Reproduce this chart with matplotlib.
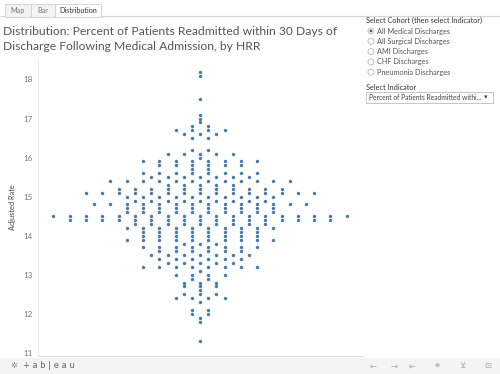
#!/usr/bin/env python3
"""
Distribution tab: percent of patients readmitted within 30 days of discharge
following medical admission, one dot per HRR, stacked by rounded rate.
"""

import numpy as np
import matplotlib
matplotlib.use('Agg')
import matplotlib.pyplot as plt
from matplotlib.patches import Rectangle, Circle

# Adjusted rate (rounded to 0.1) and number of HRRs sitting at that rate
RATE_BINS = [18.2, 18.1, 17.5, 17.1, 17.0, 16.9, 16.8, 16.7, 16.6, 16.5,
             16.2, 16.1, 16.0, 15.9, 15.8, 15.7, 15.6, 15.5, 15.4, 15.3,
             15.2, 15.1, 15.0, 14.9, 14.8, 14.7, 14.6, 14.5, 14.4, 14.3,
             14.2, 14.1, 14.0, 13.9, 13.8, 13.7, 13.6, 13.5, 13.4, 13.3,
             13.2, 13.1, 13.0, 12.9, 12.8, 12.7, 12.6, 12.5, 12.4, 12.3,
             12.1, 12.0, 11.9, 11.8, 11.3]
HRR_COUNTS = [1, 1, 1, 1, 1, 1, 2, 4, 3, 2,
              2, 5, 1, 8, 6, 2, 8, 7, 12, 5,
              11, 15, 10, 9, 14, 10, 10, 19, 17, 9,
              10, 8, 8, 10, 3, 8, 6, 7, 6, 5,
              8, 1, 4, 2, 3, 3, 1, 3, 4, 1,
              2, 2, 1, 1, 1]

Y_TICKS = [11, 12, 13, 14, 15, 16, 17, 18]
TABS = ['Map', 'Bar', 'Distribution']
TITLE_LINES = ['Distribution: Percent of Patients Readmitted within 30 Days of',
               'Discharge Following Medical Admission, by HRR']
COHORTS = ['All Medical Discharges', 'All Surgical Discharges', 'AMI Discharges',
           'CHF Discharges', 'Pneumonia Discharges']
SELECTED_COHORT = 0
INDICATOR = 'Percent of Patients Readmitted withi...'

DOT_COLOR = '#4e79a7'
FONT = ['Lato', 'DejaVu Sans']

W, H = 500, 374


def stack_rows(bins, counts):
    """Centre each row of dots; neighbours two columns apart."""
    xs, ys = [], []
    for value, n in zip(bins, counts):
        offsets = np.arange(n) * 2 - (n - 1)
        xs.extend(offsets)
        ys.extend([value] * n)
    return np.array(xs, dtype=float), np.array(ys, dtype=float)


def draw_chrome(bg):
    """Tabs, title, filter panel and footer, in pixel coordinates."""
    # tab strip
    tab_edges = [5, 31, 55, 101]
    bg.plot([0, W], [16, 16], color='#d4d4d4', lw=0.8)
    for i, name in enumerate(TABS):
        x0, x1 = tab_edges[i], tab_edges[i + 1]
        active = i == len(TABS) - 1
        bg.add_patch(Rectangle((x0, 4), x1 - x0, 12.5,
                               facecolor='white' if active else '#f3f3f3',
                               edgecolor='#d0d0d0', lw=0.6, zorder=2))
        bg.text((x0 + x1) / 2, 10.5, name, ha='center', va='center',
                fontsize=5.2, color='#333333' if active else '#777777',
                family=FONT, zorder=3)

    for j, line in enumerate(TITLE_LINES):
        bg.text(3, 31.5 + j * 14.5, line, ha='left', va='center',
                fontsize=8.7, color='#555555', family=FONT)

    # filter panel
    bg.text(366, 20, 'Select Cohort (then select Indicator)', ha='left',
            va='center', fontsize=5.3, color='#333333', family=FONT)
    for j, name in enumerate(COHORTS):
        cy = 31 + j * 10.3
        bg.add_patch(Circle((371, cy), 3.0, facecolor='white',
                            edgecolor='#b5b5b5', lw=0.6))
        if j == SELECTED_COHORT:
            bg.add_patch(Circle((371, cy), 1.4, facecolor='#555555', lw=0))
        bg.text(377, cy, name, ha='left', va='center', fontsize=5.3,
                color='#555555', family=FONT)
    bg.text(366, 87, 'Select Indicator', ha='left', va='center',
            fontsize=5.3, color='#333333', family=FONT)
    bg.add_patch(Rectangle((366, 92), 127, 11, facecolor='white',
                           edgecolor='#bdbdbd', lw=0.6))
    bg.text(369, 97.5, INDICATOR, ha='left', va='center', fontsize=4.8,
            color='#444444', family=FONT)
    bg.text(486, 97.5, '▾', ha='center', va='center', fontsize=5,
            color='#444444', family=['DejaVu Sans'])

    # y axis title
    bg.text(13, 207, 'Adjusted Rate', ha='center', va='center', rotation=90,
            fontsize=5.3, color='#444444', family=FONT)

    # footer bar
    bg.add_patch(Rectangle((0, 358), W, 16, facecolor='#f4f4f4',
                           edgecolor='none'))
    bg.text(14, 366, '✲', ha='center', va='center', fontsize=6,
            color='#8a8a8a', family=['DejaVu Sans'])
    bg.text(23, 366, '+ a b | e a u', ha='left', va='center', fontsize=6,
            color='#666666', family=['DejaVu Sans'])
    icons = ['←', '→', '⇤', '⚭', '⊻', '⊡']
    for x, icon in zip([373, 394, 412, 437, 462, 488], icons):
        bg.text(x, 366, icon, ha='center', va='center', fontsize=6,
                color='#a8a8a8', family=['DejaVu Sans'])


def main():
    fig = plt.figure(figsize=(W / 100, H / 100), dpi=100)
    fig.patch.set_facecolor('white')

    bg = fig.add_axes([0, 0, 1, 1])
    bg.set_xlim(0, W)
    bg.set_ylim(H, 0)
    bg.axis('off')
    draw_chrome(bg)

    # plot area: x 38..363 px, y 58..356 px
    ax = fig.add_axes([38 / W, (H - 356) / H, (363 - 38) / W, (356 - 58) / H])
    ax.patch.set_alpha(0)
    xs, ys = stack_rows(RATE_BINS, HRR_COUNTS)
    ax.scatter(xs, ys, s=6, color=DOT_COLOR, linewidths=0, zorder=3)

    ax.set_xlim(-19.9, 20.0)
    ax.set_ylim(10.92, 18.55)
    ax.set_xticks([])
    ax.set_yticks(Y_TICKS)
    ax.set_yticklabels([str(t) for t in Y_TICKS], family=FONT)
    ax.tick_params(axis='y', length=0, labelsize=5.8, labelcolor='#777777',
                   pad=4)
    for side in ['top', 'right']:
        ax.spines[side].set_visible(False)
    ax.spines['left'].set_color('#ececec')
    ax.spines['bottom'].set_color('#dcdcdc')
    ax.spines['left'].set_linewidth(0.7)
    ax.spines['bottom'].set_linewidth(0.7)

    fig.savefig('out.png', dpi=100, facecolor='white')
    plt.close(fig)


if __name__ == '__main__':
    main()
